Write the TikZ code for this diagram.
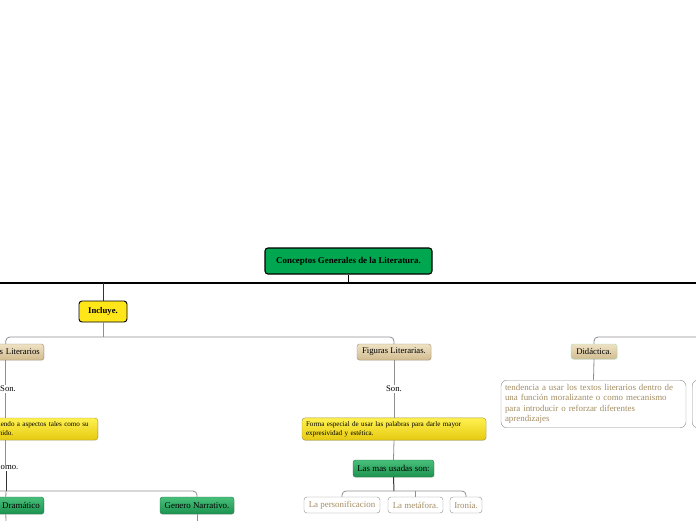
\documentclass[tikz,border=0pt]{standalone}
\usepackage{fontspec}
\setmainfont{Liberation Serif}
\usetikzlibrary{positioning,shadows}

\definecolor{rootgreen}{HTML}{00A650}
\definecolor{incyellow}{HTML}{FFE619}
\definecolor{tantop}{HTML}{EEE2C4}
\definecolor{tanbot}{HTML}{D2BC90}
\definecolor{tanline}{HTML}{A09070}
\definecolor{ylwtop}{HTML}{FFF150}
\definecolor{ylwbot}{HTML}{E6CA10}
\definecolor{ylwline}{HTML}{A8983A}
\definecolor{grntop}{HTML}{48C07A}
\definecolor{grnbot}{HTML}{1C9250}
\definecolor{grnline}{HTML}{2A7648}
\definecolor{leaftext}{HTML}{A38D62}
\definecolor{linkgray}{HTML}{8E8E8E}
\definecolor{didline}{HTML}{9EDCB0}

\begin{document}
\begin{tikzpicture}[x=1pt, y=-1pt,
  rootbox/.style={draw, line width=1.1pt, rounded corners=3pt, fill=rootgreen,
    font=\fontsize{8.9}{10}\selectfont\bfseries, minimum height=26pt},
  incbox/.style={draw, line width=0.9pt, rounded corners=3pt, fill=incyellow,
    font=\fontsize{8.7}{10}\selectfont\bfseries, minimum height=21pt},
  tanbox/.style={draw=tanline, rounded corners=2.5pt, top color=tantop, bottom color=tanbot,
    font=\fontsize{8.7}{10}\selectfont, minimum height=16pt, inner xsep=4pt,
    drop shadow={opacity=0.2, shadow xshift=0.6pt, shadow yshift=-0.8pt}},
  descbox/.style={draw=ylwline, rounded corners=3pt, top color=ylwtop, bottom color=ylwbot,
    font=\fontsize{7.1}{9}\selectfont, align=left, minimum height=22pt, inner xsep=4pt,
    drop shadow={opacity=0.2, shadow xshift=0.6pt, shadow yshift=-0.8pt}},
  grnbox/.style={draw=grnline, rounded corners=2.5pt, top color=grntop, bottom color=grnbot,
    font=\fontsize{8.9}{10}\selectfont, minimum height=17pt, inner xsep=4pt,
    drop shadow={opacity=0.2, shadow xshift=0.6pt, shadow yshift=-0.8pt}},
  leafbox/.style={draw=linkgray, rounded corners=3pt, fill=white, text=leaftext,
    font=\fontsize{8.9}{10}\selectfont, minimum height=16pt, inner xsep=4pt},
  notebox/.style={draw=linkgray, rounded corners=6pt, fill=white, text=leaftext,
    font=\fontsize{8.9}{10.5}\selectfont, align=left, inner sep=4pt},
  word/.style={font=\fontsize{8.7}{10}\selectfont, inner sep=1pt},
  trunk/.style={line width=1.1pt, black},
  stem/.style={line width=1pt, black!80},
  link/.style={line width=0.8pt, linkgray}
]
\useasboundingbox (0,0) rectangle (696,520);
\clip (0,0) rectangle (696,520);
% Root and first level
\node[rootbox, minimum width=167pt] (root) at (348.5,261) {Conceptos Generales de la Literatura.};
\node[incbox, minimum width=48pt] (inc) at (103,311.5) {Incluye.};
\coordinate (trunkL) at (0,283);
\coordinate (trunkR) at (696,283);
\draw[trunk] (trunkL) -- (trunkR);
\draw[trunk] (root.south) -- (root.south|-trunkL);
\draw[link, black!80] (inc.north) -- (inc.north|-trunkL);
% Second level
\node[tanbox, text width=68pt, align=right, anchor=east] (gen) at (44,352) {s Literarios};
\node[tanbox, minimum width=74pt] (fig) at (394,352) {Figuras Literarias.};
\node[tanbox, draw=didline, minimum width=46pt, minimum height=15pt] (did) at (594,351.5) {Didáctica.};
\coordinate (bar1) at (103,337);
\coordinate (barR) at (696,337);
\draw[link] (inc.south) -- (bar1);
\draw[link, rounded corners=4pt] (gen.north) |- (bar1) -| (fig.north);
\draw[link, rounded corners=4pt] (did.north) |- (barR);
% Generos branch
\coordinate (bar3) at (6,491);
\coordinate (bar3L) at (0,491);
\node[word, anchor=west] (gson) at (-1,389) {Son.};
\node[descbox, text width=95pt, anchor=east] (gdesc) at (98,429)
  {iendo a aspectos tales como su\\nido.};
\node[word, anchor=west] (gcomo) at (-0.5,468) {omo.};
\node[grnbox, text width=68pt, align=right, anchor=east] (gdram) at (44,505.5) {Dramático};
\node[grnbox, minimum width=74pt] (gnarr) at (197,505.5) {Genero Narrativo.};
\coordinate (endL) at (6,522);
\coordinate (endM) at (197,522);
\draw[link] (gen.south) -- (gson.north-|gen.south);
\draw[link] (gson.south-|gen.south) -- (gdesc.north-|gen.south);
\draw[link] (gdesc.south-|gen.south) -- (gcomo.north-|gen.south);
\draw[stem] (gcomo.south-|bar3) -- (bar3);
\draw[link, rounded corners=4pt] (bar3L) -- (bar3) -| (gnarr.north);
\draw[link] (bar3) -- (gdram.north);
\draw[link] (gdram.south) -- (endL);
\draw[link] (gnarr.south) -- (endM);
% Figuras branch
\node[word] (fson) at (394,389) {Son.};
\node[descbox, text width=176pt] (fdesc) at (394,429)
  {Forma especial de usar las palabras para darle mayor\\expresividad y estética.};
\node[grnbox, minimum width=81pt] (fuse) at (393.5,468.5) {Las mas usadas son:};
\node[leafbox, minimum width=76pt] (per) at (342,505) {La personificacion};
\node[leafbox, minimum width=55pt] (met) at (415.5,505) {La metáfora.};
\node[leafbox, minimum width=32pt] (iro) at (466,505) {Ironía.};
\coordinate (bar2) at (394,491);
\draw[link] (fig.south) -- (fson.north);
\draw[link] (fson.south) -- (fdesc.north);
\draw[link] (fdesc.south) -- (fuse.north);
\draw[stem] (fuse.south) -- (bar2);
\draw[link, rounded corners=4pt] (per.north) |- (bar2) -| (iro.north);
\draw[link] (met.north) -- (met.north|-bar2);
% Didactica branch
\node[notebox, text width=177pt] (ddesc) at (593.5,404)
  {tendencia a usar los textos literarios dentro de\\una función moralizante o como mecanismo\\para introducir o reforzar diferentes\\aprendizajes};
\node[notebox, minimum width=80pt, minimum height=48pt, anchor=west] (dnext) at (692,404) {};
\draw[link] (did.south) -- (ddesc.north);
\end{tikzpicture}
\end{document}
